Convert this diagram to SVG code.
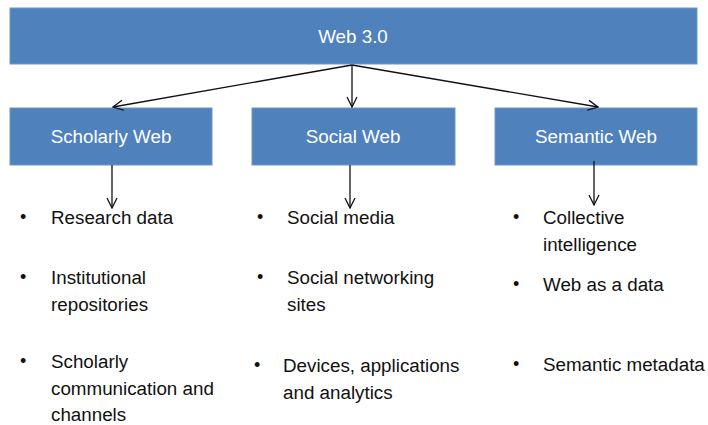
<svg xmlns="http://www.w3.org/2000/svg" width="708" height="425" viewBox="0 0 708 425">
<defs>
<style>
.box{fill:#4F81BD;stroke:#6d97c9;stroke-width:1}
.bt{font-family:"Liberation Sans",Arial,sans-serif;font-size:18.8px;fill:#ffffff;text-anchor:middle}
.t{font-family:"Liberation Sans",Arial,sans-serif;font-size:18.8px;fill:#111111}
.b{font-family:"Liberation Sans",Arial,sans-serif;font-size:18px;fill:#111111}
.c{stroke:#111111;stroke-width:1.3;fill:none;marker-end:url(#ah)}
</style>
<marker id="ah" viewBox="0 0 12 12" refX="11" refY="6" markerWidth="12" markerHeight="12" markerUnits="userSpaceOnUse" orient="auto">
<path d="M1,1 L11,6 L1,11" fill="none" stroke="#111111" stroke-width="1.3"/>
</marker>
</defs>
<rect width="708" height="425" fill="#ffffff"/>
<g id="web30"><rect class="box" x="10" y="8" width="687" height="56"/><text class="bt" x="353" y="43">Web 3.0</text></g>
<g id="scholarly"><rect class="box" x="10" y="108" width="202" height="57"/><text class="bt" x="111" y="143">Scholarly Web</text></g>
<g id="social"><rect class="box" x="252" y="108" width="203" height="57"/><text class="bt" x="353" y="143">Social Web</text></g>
<g id="semantic"><rect class="box" x="495" y="108" width="202" height="57"/><text class="bt" x="596" y="143">Semantic Web</text></g>
<g id="connectors">
<line class="c" x1="352" y1="65" x2="113" y2="107"/>
<line class="c" x1="352" y1="65" x2="352" y2="107"/>
<line class="c" x1="352" y1="65" x2="598" y2="107"/>
<line class="c" x1="112" y1="165" x2="112" y2="208"/>
<line class="c" x1="350" y1="165" x2="350" y2="208"/>
<line class="c" x1="594" y1="161" x2="594" y2="205"/>
</g>
<g id="scholarly-list" class="t">
<text class="b" x="20" y="223">•</text><text x="51" y="224">Research data</text>
<text class="b" x="20" y="283">•</text><text x="51" y="284">Institutional</text><text x="51" y="311">repositories</text>
<text class="b" x="20" y="367">•</text><text x="51" y="368">Scholarly</text><text x="51" y="395">communication and</text><text x="51" y="421">channels</text>
</g>
<g id="social-list" class="t">
<text class="b" x="257" y="223">•</text><text x="287" y="224">Social media</text>
<text class="b" x="257" y="283">•</text><text x="287" y="284">Social networking</text><text x="287" y="311">sites</text>
<text class="b" x="254" y="371">•</text><text x="283" y="372">Devices, applications</text><text x="283" y="399">and analytics</text>
</g>
<g id="semantic-list" class="t">
<text class="b" x="513" y="223">•</text><text x="543" y="224">Collective</text><text x="543" y="251">intelligence</text>
<text class="b" x="513" y="290">•</text><text x="543" y="291">Web as a data</text>
<text class="b" x="513" y="370">•</text><text x="543" y="371">Semantic metadata</text>
</g>
</svg>
